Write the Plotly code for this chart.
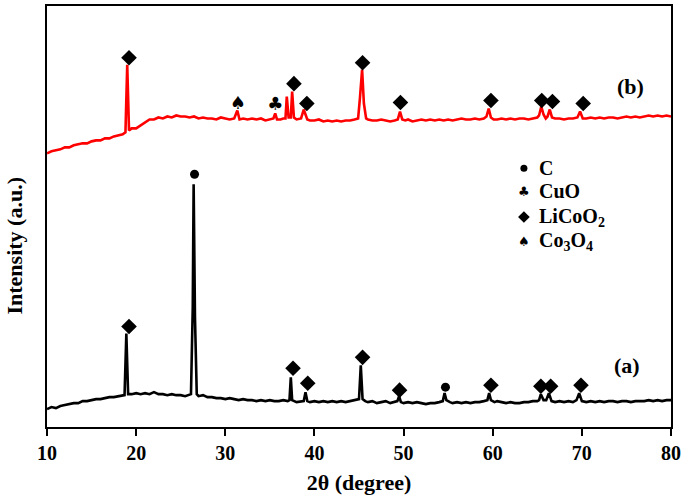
import plotly.graph_objects as go

# --- data (intensity in arbitrary units) ---
two_theta_a = [10, 10.5, 11, 11.5, 12, 12.5, 13, 13.5, 14, 14.5, 15, 15.5, 16, 16.5, 17, 17.5, 18, 18.5,
               18.7, 18.9, 19.1, 19.5, 20, 20.5, 21, 21.5, 22, 22.5, 23, 23.5, 24, 24.5, 25, 25.5, 26,
               26.15, 26.35, 26.45, 26.6, 26.8, 27, 27.5, 28, 28.5, 29, 29.5, 30, 30.5, 31, 31.5, 32, 32.5,
               33, 33.5, 34, 34.5, 35, 35.5, 36, 36.5, 37, 37.2, 37.35, 37.5, 38, 38.5, 38.8, 39.0, 39.2,
               39.5, 40, 40.5, 41, 41.5, 42, 42.5, 43, 43.5, 44, 44.5, 45.0, 45.2, 45.4, 45.7, 46, 46.5, 47,
               47.5, 48, 48.5, 49, 49.3, 49.5, 49.7, 50, 50.5, 51, 51.5, 52, 52.5, 53, 53.5, 54, 54.4, 54.6,
               54.8, 55.2, 55.5, 56, 56.5, 57, 57.5, 58, 58.5, 59, 59.4, 59.6, 59.8, 60.2, 60.5, 61, 61.5,
               62, 62.5, 63, 63.5, 64, 64.5, 65, 65.2, 65.4, 65.7, 66, 66.3, 66.6, 67, 67.5, 68, 68.5, 69,
               69.4, 69.7, 70.0, 70.5, 71, 71.5, 72, 72.5, 73, 73.5, 74, 74.5, 75, 75.5, 76, 76.5, 77, 77.5,
               78, 78.5, 79, 79.5, 80]
intensity_a = [18, 20, 19, 21, 22, 23, 24, 24, 26, 26, 27, 28, 28, 29, 30, 30, 31, 32,
               32, 94, 33, 33, 34, 33, 34, 33, 35, 33, 33, 32, 33, 32, 32, 31, 32,
               33, 120, 244, 110, 33, 31, 32, 30, 30, 29, 29, 28, 29, 28, 27, 28, 27,
               27, 26, 27, 26, 27, 26, 26, 27, 26, 27, 50, 27, 25, 26, 26, 35, 26,
               25, 26, 25, 26, 25, 26, 25, 26, 25, 26, 27, 28, 62, 28, 26, 25, 26, 24,
               25, 26, 24, 25, 26, 31, 25, 24, 25, 24, 25, 24, 23, 24, 24, 25, 26, 34,
               27, 25, 24, 25, 24, 25, 24, 25, 25, 26, 27, 34, 27, 25, 26, 25, 24,
               25, 24, 24, 25, 25, 26, 26, 27, 33, 27, 27, 34, 26, 25, 26, 25, 26, 25,
               27, 34, 26, 25, 26, 25, 26, 25, 26, 26, 25, 26, 26, 25, 26, 26, 26, 27,
               26, 27, 26, 27, 27]

two_theta_b = [10, 10.5, 11, 11.5, 12, 12.5, 13, 13.5, 14, 14.5, 15, 15.5, 16, 16.5, 17, 17.5, 18, 18.5,
               18.8, 19.0, 19.2, 19.5, 20, 20.5, 21, 21.5, 22, 22.5, 23, 23.5, 24, 24.5, 25, 25.5, 26,
               26.5, 27, 27.5, 28, 28.5, 29, 29.5, 30, 30.5, 31, 31.35, 31.6, 32, 32.5, 33, 33.5, 34, 34.5,
               35, 35.4, 35.6, 35.8, 36.2, 36.5, 36.75, 36.9, 37.1, 37.35, 37.5, 37.7, 38.0, 38.5, 38.8,
               39.2, 39.5, 40, 40.5, 41, 41.5, 42, 42.5, 43, 43.5, 44, 44.5, 44.9, 45.1, 45.35, 45.55, 45.8,
               46, 46.5, 47, 47.5, 48, 48.5, 49, 49.35, 49.6, 49.85, 50.2, 50.5, 51, 51.5, 52, 52.5, 53,
               53.5, 54, 54.5, 55, 55.5, 56, 56.5, 57, 57.5, 58, 58.5, 59, 59.3, 59.55, 59.8, 60.1, 60.5,
               61, 61.5, 62, 62.5, 63, 63.5, 64, 64.5, 65, 65.2, 65.45, 65.7, 65.95, 66.15, 66.4, 66.65,
               67, 67.5, 68, 68.5, 69, 69.5, 69.8, 70.1, 70.5, 71, 71.5, 72, 72.5, 73, 73.5, 74, 74.5, 75,
               75.5, 76, 76.5, 77, 77.5, 78, 78.5, 79, 79.5, 80]
intensity_b = [275, 277, 278, 279, 281, 281, 283, 284, 285, 285, 287, 288, 288, 290, 290, 292, 293, 294,
               296, 364, 298, 300, 300, 303, 306, 309, 309, 311, 310, 312, 311, 313, 312, 312, 311,
               312, 310, 311, 310, 310, 309, 311, 310, 309, 310, 318, 309, 310, 309, 310, 309, 310, 308,
               309, 310, 315, 309, 309, 310, 310, 332, 311, 311, 337, 311, 309, 310, 319,
               309, 308, 308, 309, 307, 308, 307, 308, 307, 308, 308, 309, 310, 330, 359, 325, 310,
               309, 308, 308, 309, 308, 307, 308, 309, 317, 309, 308, 309, 307, 308, 309, 308, 309,
               308, 309, 308, 309, 308, 309, 310, 309, 309, 310, 309, 310, 312, 320, 311, 309, 309,
               310, 309, 310, 309, 310, 310, 309, 310, 311, 313, 322, 314, 310, 312, 319, 311,
               310, 310, 309, 310, 310, 311, 317, 310, 310, 311, 310, 311, 310, 311, 311, 310, 311, 312,
               311, 312, 311, 312, 313, 312, 313, 312, 313, 312]

# phase markers above the peaks
licoo2_a_x = [19.2, 37.6, 39.25, 45.4, 49.55, 59.8, 65.4, 66.5, 69.9]
licoo2_a_y = [101, 59, 44, 70, 37, 42, 41, 41, 42]
carbon_a_x = [26.55, 54.7]
carbon_a_y = [254, 40]

licoo2_b_x = [19.2, 37.7, 39.15, 45.4, 49.65, 59.8, 65.5, 66.7, 70.15]
licoo2_b_y = [371, 345, 325, 366, 326, 328, 328, 327, 325]
co3o4_b_x = [31.4]
co3o4_b_y = [324]
cuo_b_x = [35.6]
cuo_b_y = [323]

legend_labels = ["C", "CuO", "LiCoO<sub>2</sub>", "Co<sub>3</sub>O<sub>4</sub>"]
legend_symbols = ["circle", "club", "diamond", "spade"]
legend_y = [260, 237, 211, 186]
legend_sym_x = 63.5
legend_txt_x = 65.0

x_ticks = [10, 20, 30, 40, 50, 60, 70, 80]

FONT = "Liberation Serif, Times New Roman, serif"

fig = go.Figure()
fig.add_trace(go.Scatter(x=two_theta_a, y=intensity_a, mode="lines",
                         line=dict(color="black", width=2.6)))
fig.add_trace(go.Scatter(x=two_theta_b, y=intensity_b, mode="lines",
                         line=dict(color="#ff0000", width=2.6)))

# diamonds / circles on peaks
fig.add_trace(go.Scatter(x=licoo2_a_x + licoo2_b_x, y=licoo2_a_y + licoo2_b_y, mode="markers",
                         marker=dict(symbol="diamond", size=12, color="black")))
fig.add_trace(go.Scatter(x=carbon_a_x, y=carbon_a_y, mode="markers",
                         marker=dict(symbol="circle", size=9, color="black")))
fig.add_trace(go.Scatter(x=co3o4_b_x, y=co3o4_b_y, mode="text", text=["\u2660"],
                         textfont=dict(family="DejaVu Sans", size=18, color="black")))
fig.add_trace(go.Scatter(x=cuo_b_x, y=cuo_b_y, mode="text", text=["\u2663"],
                         textfont=dict(family="DejaVu Sans", size=18, color="black")))

# legend block inside the plot
sym_glyph = {"club": "\u2663", "spade": "\u2660"}
for lab, sym, yy in zip(legend_labels, legend_symbols, legend_y):
    if sym in sym_glyph:
        fig.add_annotation(x=legend_sym_x, y=yy, text=sym_glyph[sym], showarrow=False,
                           font=dict(family="DejaVu Sans", size=13, color="black"))
    else:
        fig.add_trace(go.Scatter(x=[legend_sym_x], y=[yy], mode="markers",
                                 marker=dict(symbol=sym, size=9 if sym == "diamond" else 7, color="black")))
    fig.add_annotation(x=legend_txt_x, y=yy, text=lab, showarrow=False, xanchor="left",
                       font=dict(family=FONT, size=20, color="black", weight="bold"))

fig.add_annotation(x=75.1, y=62, text="(a)", showarrow=False,
                   font=dict(family=FONT, size=22, color="black", weight="bold"))
fig.add_annotation(x=75.5, y=342, text="(b)", showarrow=False,
                   font=dict(family=FONT, size=22, color="black", weight="bold"))

# y-axis title sits a bit below the plot's mid-height in the reference
fig.add_annotation(xref="paper", yref="paper", x=-0.052, y=0.43, xanchor="center", yanchor="middle",
                   text="Intensity (a.u.)", textangle=-90, showarrow=False,
                   font=dict(family=FONT, size=22, color="black", weight="bold"))

fig.update_layout(
    width=685, height=496,
    margin=dict(l=47, r=13, t=4, b=69),
    paper_bgcolor="white", plot_bgcolor="white",
    showlegend=False,
    font=dict(family=FONT, color="black"),
)
fig.update_xaxes(range=[10, 80], tickvals=x_ticks, ticks="outside", ticklen=7, tickwidth=2,
                 tickcolor="black", showline=True, linewidth=2, linecolor="black", mirror=True,
                 showgrid=False, zeroline=False,
                 tickfont=dict(family=FONT, size=20, color="black", weight="bold"),
                 title=dict(text="2\u03b8 (degree)", standoff=12,
                            font=dict(family=FONT, size=22, color="black", weight="bold")))
fig.update_yaxes(range=[0, 423], showticklabels=False, ticks="", showline=True, linewidth=2,
                 linecolor="black", mirror=True, showgrid=False, zeroline=False)

fig.write_html("out.html", config={"displayModeBar": False},
               post_script="document.body.style.margin='0';")
